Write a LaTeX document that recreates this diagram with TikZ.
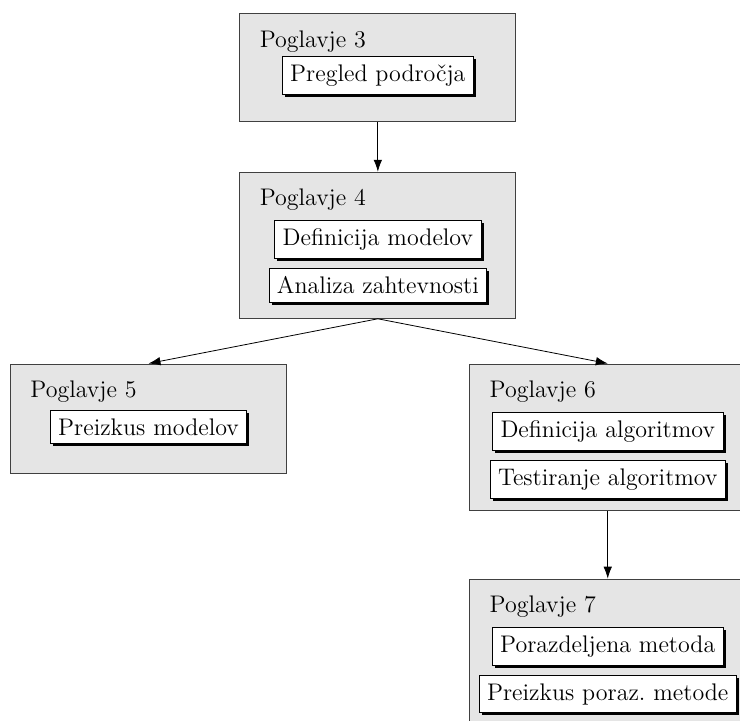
\documentclass[12pt,tikz,border=0pt]{standalone}
\usetikzlibrary{shadows, positioning, arrows.meta}

\tikzset{
    chapter/.style={draw=black!75, fill=black!10, minimum width=4.85cm, inner sep=0pt},
    item/.style={draw, fill=white, drop shadow={fill=black, opacity=1, shadow xshift=1.3pt, shadow yshift=-1.3pt}},
    chtitle/.style={anchor=base west},
    link/.style={-{Latex[length=2.1mm, width=1.5mm]}},
}

\begin{document}
\begin{tikzpicture}
    \clip (0,0) rectangle (13.004,-12.653);

    \node[chapter, minimum height=1.90cm] (ch3) at (6.64,-1.19) {};
    \node[chapter, minimum height=2.57cm] (ch4) at (6.64,-4.31) {};
    \node[chapter, minimum height=1.93cm] (ch5) at (2.61,-7.36) {};
    \node[chapter, minimum height=2.57cm] (ch6) at (10.68,-7.68) {};
    \node[chapter, minimum height=2.57cm] (ch7) at (10.68,-11.46) {};

    \node[chtitle] (t3) at ([xshift=0.21cm, yshift=-0.60cm]ch3.north west) {Poglavje 3};
    \node[item] (pregled) at ([yshift=-1.09cm]ch3.north) {Pregled področja};

    \node[chtitle] (t4) at ([xshift=0.21cm, yshift=-0.60cm]ch4.north west) {Poglavje 4};
    \node[item] (defmod) at ([yshift=-1.19cm]ch4.north) {Definicija modelov};
    \node[item, below=0.17cm of defmod] (analiza) {Analiza zahtevnosti};

    \node[chtitle] (t5) at ([xshift=0.21cm, yshift=-0.60cm]ch5.north west) {Poglavje 5};
    \node[item] (preimod) at ([yshift=-1.12cm]ch5.north) {Preizkus modelov};

    \node[chtitle] (t6) at ([xshift=0.21cm, yshift=-0.60cm]ch6.north west) {Poglavje 6};
    \node[item] (defalg) at ([yshift=-1.19cm]ch6.north) {Definicija algoritmov};
    \node[item, below=0.17cm of defalg] (testalg) {Testiranje algoritmov};

    \node[chtitle] (t7) at ([xshift=0.21cm, yshift=-0.60cm]ch7.north west) {Poglavje 7};
    \node[item] (porazd) at ([yshift=-1.19cm]ch7.north) {Porazdeljena metoda};
    \node[item, below=0.17cm of porazd] (preipor) {Preizkus poraz.\ metode};

    \draw[link] (ch3.south) -- (ch4.north);
    \draw[link] (ch4.south) -- (ch5.north);
    \draw[link] (ch4.south) -- (ch6.north);
    \draw[link] (ch6.south) -- (ch7.north);
\end{tikzpicture}
\end{document}
